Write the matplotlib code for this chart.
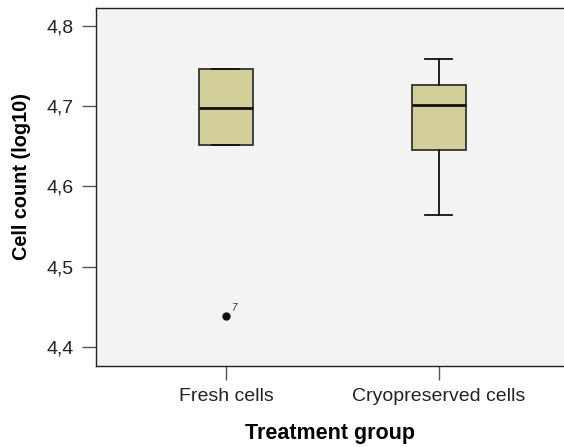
import matplotlib
matplotlib.use("Agg")
import matplotlib.pyplot as plt
from matplotlib.ticker import FuncFormatter

# values
groups = ["Fresh cells", "Cryopreserved cells"]
q1 = [4.652, 4.645]
medians = [4.698, 4.702]
q3 = [4.747, 4.727]
whis_low = [4.652, 4.564]
whis_high = [4.747, 4.759]
outliers = [[4.438], []]
outlier_ids = [["7"], []]
y_ticks = [4.4, 4.5, 4.6, 4.7, 4.8]

plt.rcParams['font.family'] = ['Liberation Sans', 'DejaVu Sans']

fig = plt.figure(figsize=(5.64, 4.47), dpi=100)
ax = fig.add_axes([0.1702, 0.1812, 0.8298, 0.8009])
ax.set_facecolor("#f3f3f3")

stats = []
for i, name in enumerate(groups):
    stats.append({
        "label": name,
        "q1": q1[i], "med": medians[i], "q3": q3[i],
        "whislo": whis_low[i], "whishi": whis_high[i],
        "fliers": outliers[i],
    })

positions = list(range(1, len(groups) + 1))
ax.bxp(stats, positions=positions, widths=0.254, patch_artist=True,
       boxprops=dict(facecolor="#d3cf98", edgecolor="#333333", linewidth=1.3),
       medianprops=dict(color="#111111", linewidth=2),
       whiskerprops=dict(color="#111111", linewidth=1.3),
       capprops=dict(color="#111111", linewidth=1.3),
       capwidths=0.127,
       flierprops=dict(marker="o", markerfacecolor="#111111",
                       markeredgecolor="#111111", markersize=5))

# outlier case numbers
for pos, vals, ids in zip(positions, outliers, outlier_ids):
    for v, label in zip(vals, ids):
        ax.annotate(label, (pos, v), xytext=(4, 4), textcoords="offset points",
                    fontsize=7, style="italic", color="#333333")

ax.set_xlim(0.389, 2.589)
ax.set_ylim(4.3763, 4.8224)
ax.set_yticks(y_ticks)
ax.yaxis.set_major_formatter(FuncFormatter(lambda v, p: f"{v:.1f}".replace(".", ",")))
ax.set_xticks(positions)
ax.set_xticklabels(groups)

ax.tick_params(axis="both", length=10, width=1, color="#555555",
               labelsize=14, labelcolor="#222222", pad=6)

for side in ["left", "top", "bottom"]:
    ax.spines[side].set_color("#222222")
    ax.spines[side].set_linewidth(1)
ax.spines["right"].set_visible(False)

ax.set_xlabel("Treatment group", fontsize=15.5, fontweight="bold", labelpad=13)
ax.set_ylabel("Cell count (log10)", fontsize=14.3, fontweight="bold", labelpad=11)
ax.yaxis.label.set_y(0.529)

fig.savefig("out.png", dpi=100)
